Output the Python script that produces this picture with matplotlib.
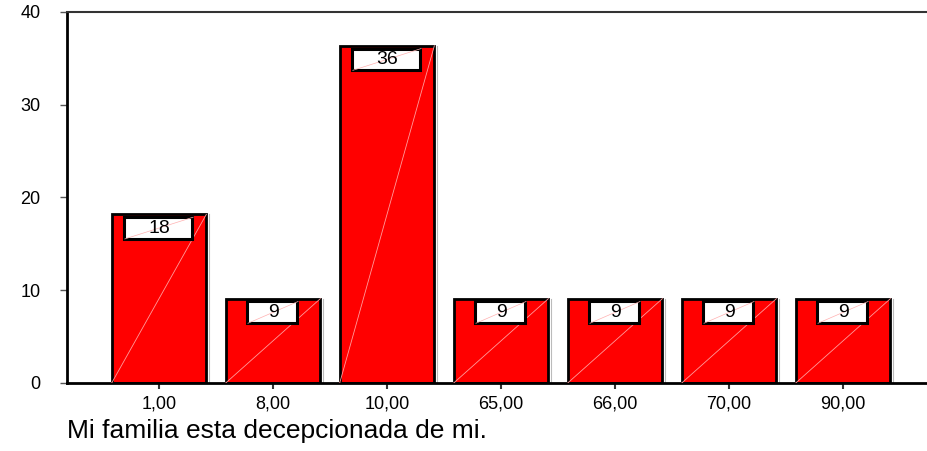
import matplotlib
matplotlib.use('Agg')
import matplotlib.pyplot as plt
from matplotlib.patches import Rectangle

# valores (porcentaje)
categorias = ['1,00', '8,00', '10,00', '65,00', '66,00', '70,00', '90,00']
porcentajes = [18.18, 9.09, 36.36, 9.09, 9.09, 9.09, 9.09]
etiquetas = ['18', '9', '36', '9', '9', '9', '9']
titulo_x = 'Mi familia esta decepcionada de mi.'

plt.rcParams['font.family'] = ['Liberation Sans', 'DejaVu Sans']

fig = plt.figure(figsize=(9.28, 4.51), dpi=100)
ax = fig.add_axes([0.0722, 0.1508, 0.9278, 0.8226])

ANCHO = 0.83
x = list(range(len(categorias)))
ax.bar(x, porcentajes, width=ANCHO, color='#ff0000', edgecolor='black', linewidth=2, zorder=2)

# línea diagonal clara dentro de cada barra + sombra gris a la derecha
for xi, v in zip(x, porcentajes):
    ax.plot([xi - ANCHO / 2, xi + ANCHO / 2], [0, v], color='#ff9c9c', lw=0.6, zorder=3)
    ax.plot([xi + ANCHO / 2 + 0.02] * 2, [0, v], color='#bbbbbb', lw=0.8, zorder=1.5)

# cajas de etiqueta
for xi, v, lab in zip(x, porcentajes, etiquetas):
    w = 0.6 if len(lab) > 1 else 0.44
    h = 2.35
    y0 = v - 0.3 - h
    ax.add_patch(Rectangle((xi - w / 2 - 0.01, y0), w, h, fc='white', ec='black', lw=2.2, zorder=4))
    ax.plot([xi - w / 2, xi + w / 2], [y0, y0 + h], color='#ffb0b0', lw=0.5, zorder=4.5)
    ax.text(xi, y0 + h / 2, lab, ha='center', va='center', fontsize=14, zorder=5)

ax.set_xlim(-0.807, 6.745)
ax.set_ylim(0, 40)
ax.set_yticks([0, 10, 20, 30, 40])
ax.set_xticks(x)
ax.set_xticklabels(categorias)

ax.spines['right'].set_visible(False)
ax.spines['left'].set_linewidth(2)
ax.spines['bottom'].set_linewidth(2)
ax.spines['top'].set_linewidth(1.5)
ax.spines['top'].set_color('#333333')

ax.tick_params(axis='y', length=5, width=1, color='#555555', labelsize=13, pad=14)
ax.tick_params(axis='x', length=4, width=1.5, color='#333333', labelsize=13, pad=5)

fig.text(0.0722, 0.028, titulo_x, fontsize=19, ha='left', va='baseline')

plt.savefig('out.png', dpi=100)
plt.close()
